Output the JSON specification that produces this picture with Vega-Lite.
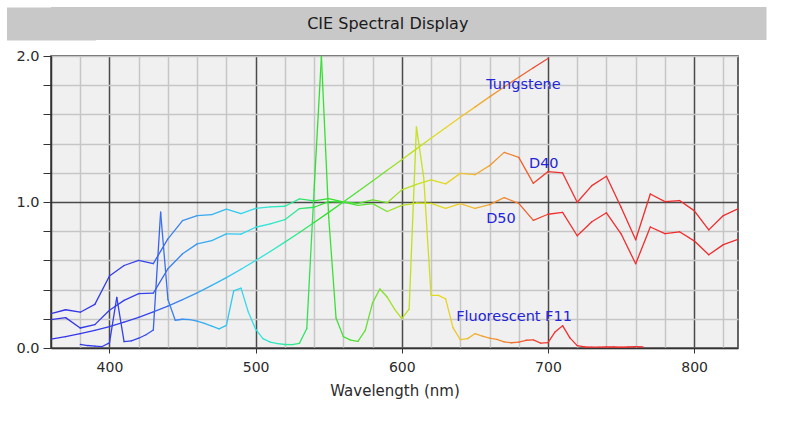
{
  "$schema": "https://vega.github.io/schema/vega-lite/v6.json",
  "background": "white",
  "padding": {"left": 5, "top": 7, "right": 5, "bottom": 5},
  "config": {"font": "DejaVu Sans"},
  "spacing": 7,
  "datasets": {
    "spectra": [
      {"s": "D40", "wl": 360, "v": 0.194}, {"s": "D40", "wl": 370, "v": 0.208}, {"s": "D40", "wl": 380, "v": 0.137}, {"s": "D40", "wl": 390, "v": 0.16},
      {"s": "D40", "wl": 400, "v": 0.258}, {"s": "D40", "wl": 410, "v": 0.326}, {"s": "D40", "wl": 420, "v": 0.372}, {"s": "D40", "wl": 430, "v": 0.376},
      {"s": "D40", "wl": 440, "v": 0.543}, {"s": "D40", "wl": 450, "v": 0.645}, {"s": "D40", "wl": 460, "v": 0.713}, {"s": "D40", "wl": 470, "v": 0.736},
      {"s": "D40", "wl": 480, "v": 0.782}, {"s": "D40", "wl": 490, "v": 0.78}, {"s": "D40", "wl": 500, "v": 0.827}, {"s": "D40", "wl": 510, "v": 0.85},
      {"s": "D40", "wl": 520, "v": 0.879}, {"s": "D40", "wl": 530, "v": 0.955}, {"s": "D40", "wl": 540, "v": 0.964}, {"s": "D40", "wl": 550, "v": 1.003},
      {"s": "D40", "wl": 560, "v": 1.0}, {"s": "D40", "wl": 570, "v": 0.99}, {"s": "D40", "wl": 580, "v": 1.015}, {"s": "D40", "wl": 590, "v": 0.995},
      {"s": "D40", "wl": 600, "v": 1.083}, {"s": "D40", "wl": 610, "v": 1.12}, {"s": "D40", "wl": 620, "v": 1.151}, {"s": "D40", "wl": 630, "v": 1.124},
      {"s": "D40", "wl": 640, "v": 1.196}, {"s": "D40", "wl": 650, "v": 1.187}, {"s": "D40", "wl": 660, "v": 1.249}, {"s": "D40", "wl": 670, "v": 1.34},
      {"s": "D40", "wl": 680, "v": 1.306}, {"s": "D40", "wl": 690, "v": 1.128}, {"s": "D40", "wl": 700, "v": 1.208}, {"s": "D40", "wl": 710, "v": 1.199},
      {"s": "D40", "wl": 720, "v": 0.998}, {"s": "D40", "wl": 730, "v": 1.112}, {"s": "D40", "wl": 740, "v": 1.176}, {"s": "D40", "wl": 750, "v": 0.964},
      {"s": "D40", "wl": 760, "v": 0.741}, {"s": "D40", "wl": 770, "v": 1.055}, {"s": "D40", "wl": 780, "v": 1.003}, {"s": "D40", "wl": 790, "v": 1.01},
      {"s": "D40", "wl": 800, "v": 0.941}, {"s": "D40", "wl": 810, "v": 0.809}, {"s": "D40", "wl": 820, "v": 0.907}, {"s": "D40", "wl": 830, "v": 0.953},

      {"s": "D50", "wl": 360, "v": 0.235}, {"s": "D50", "wl": 370, "v": 0.262}, {"s": "D50", "wl": 380, "v": 0.245}, {"s": "D50", "wl": 390, "v": 0.299},
      {"s": "D50", "wl": 400, "v": 0.493}, {"s": "D50", "wl": 410, "v": 0.565}, {"s": "D50", "wl": 420, "v": 0.6}, {"s": "D50", "wl": 430, "v": 0.578},
      {"s": "D50", "wl": 440, "v": 0.748}, {"s": "D50", "wl": 450, "v": 0.873}, {"s": "D50", "wl": 460, "v": 0.906}, {"s": "D50", "wl": 470, "v": 0.914},
      {"s": "D50", "wl": 480, "v": 0.951}, {"s": "D50", "wl": 490, "v": 0.92}, {"s": "D50", "wl": 500, "v": 0.957}, {"s": "D50", "wl": 510, "v": 0.966},
      {"s": "D50", "wl": 520, "v": 0.971}, {"s": "D50", "wl": 530, "v": 1.021}, {"s": "D50", "wl": 540, "v": 1.008}, {"s": "D50", "wl": 550, "v": 1.023},
      {"s": "D50", "wl": 560, "v": 1.0}, {"s": "D50", "wl": 570, "v": 0.977}, {"s": "D50", "wl": 580, "v": 0.989}, {"s": "D50", "wl": 590, "v": 0.935},
      {"s": "D50", "wl": 600, "v": 0.977}, {"s": "D50", "wl": 610, "v": 0.993}, {"s": "D50", "wl": 620, "v": 0.99}, {"s": "D50", "wl": 630, "v": 0.957},
      {"s": "D50", "wl": 640, "v": 0.989}, {"s": "D50", "wl": 650, "v": 0.957}, {"s": "D50", "wl": 660, "v": 0.982}, {"s": "D50", "wl": 670, "v": 1.03},
      {"s": "D50", "wl": 680, "v": 0.991}, {"s": "D50", "wl": 690, "v": 0.874}, {"s": "D50", "wl": 700, "v": 0.916}, {"s": "D50", "wl": 710, "v": 0.929},
      {"s": "D50", "wl": 720, "v": 0.769}, {"s": "D50", "wl": 730, "v": 0.865}, {"s": "D50", "wl": 740, "v": 0.926}, {"s": "D50", "wl": 750, "v": 0.782},
      {"s": "D50", "wl": 760, "v": 0.577}, {"s": "D50", "wl": 770, "v": 0.829}, {"s": "D50", "wl": 780, "v": 0.783}, {"s": "D50", "wl": 790, "v": 0.796},
      {"s": "D50", "wl": 800, "v": 0.734}, {"s": "D50", "wl": 810, "v": 0.639}, {"s": "D50", "wl": 820, "v": 0.708}, {"s": "D50", "wl": 830, "v": 0.744},

      {"s": "A", "wl": 360, "v": 0.061}, {"s": "A", "wl": 370, "v": 0.078}, {"s": "A", "wl": 380, "v": 0.098}, {"s": "A", "wl": 390, "v": 0.121},
      {"s": "A", "wl": 400, "v": 0.147}, {"s": "A", "wl": 410, "v": 0.177}, {"s": "A", "wl": 420, "v": 0.21}, {"s": "A", "wl": 430, "v": 0.247},
      {"s": "A", "wl": 440, "v": 0.287}, {"s": "A", "wl": 450, "v": 0.331}, {"s": "A", "wl": 460, "v": 0.378}, {"s": "A", "wl": 470, "v": 0.429},
      {"s": "A", "wl": 480, "v": 0.482}, {"s": "A", "wl": 490, "v": 0.539}, {"s": "A", "wl": 500, "v": 0.599}, {"s": "A", "wl": 510, "v": 0.661},
      {"s": "A", "wl": 520, "v": 0.725}, {"s": "A", "wl": 530, "v": 0.791}, {"s": "A", "wl": 540, "v": 0.86}, {"s": "A", "wl": 550, "v": 0.929},
      {"s": "A", "wl": 560, "v": 1.0}, {"s": "A", "wl": 570, "v": 1.072}, {"s": "A", "wl": 580, "v": 1.144}, {"s": "A", "wl": 590, "v": 1.217},
      {"s": "A", "wl": 600, "v": 1.29}, {"s": "A", "wl": 610, "v": 1.364}, {"s": "A", "wl": 620, "v": 1.436}, {"s": "A", "wl": 630, "v": 1.508},
      {"s": "A", "wl": 640, "v": 1.58}, {"s": "A", "wl": 650, "v": 1.65}, {"s": "A", "wl": 660, "v": 1.72}, {"s": "A", "wl": 670, "v": 1.788},
      {"s": "A", "wl": 680, "v": 1.854}, {"s": "A", "wl": 690, "v": 1.919}, {"s": "A", "wl": 700, "v": 1.983},

      {"s": "F11", "wl": 380, "v": 0.025}, {"s": "F11", "wl": 385, "v": 0.017}, {"s": "F11", "wl": 390, "v": 0.013}, {"s": "F11", "wl": 395, "v": 0.01},
      {"s": "F11", "wl": 400, "v": 0.035}, {"s": "F11", "wl": 405, "v": 0.347}, {"s": "F11", "wl": 410, "v": 0.044}, {"s": "F11", "wl": 415, "v": 0.049},
      {"s": "F11", "wl": 420, "v": 0.067}, {"s": "F11", "wl": 425, "v": 0.091}, {"s": "F11", "wl": 430, "v": 0.123}, {"s": "F11", "wl": 435, "v": 0.93},
      {"s": "F11", "wl": 440, "v": 0.332}, {"s": "F11", "wl": 445, "v": 0.19}, {"s": "F11", "wl": 450, "v": 0.197}, {"s": "F11", "wl": 455, "v": 0.195},
      {"s": "F11", "wl": 460, "v": 0.184}, {"s": "F11", "wl": 465, "v": 0.168}, {"s": "F11", "wl": 470, "v": 0.15}, {"s": "F11", "wl": 475, "v": 0.131},
      {"s": "F11", "wl": 480, "v": 0.155}, {"s": "F11", "wl": 485, "v": 0.392}, {"s": "F11", "wl": 490, "v": 0.41}, {"s": "F11", "wl": 495, "v": 0.246},
      {"s": "F11", "wl": 500, "v": 0.129}, {"s": "F11", "wl": 505, "v": 0.064}, {"s": "F11", "wl": 510, "v": 0.04}, {"s": "F11", "wl": 515, "v": 0.03},
      {"s": "F11", "wl": 520, "v": 0.024}, {"s": "F11", "wl": 525, "v": 0.023}, {"s": "F11", "wl": 530, "v": 0.032}, {"s": "F11", "wl": 535, "v": 0.134},
      {"s": "F11", "wl": 540, "v": 1.085}, {"s": "F11", "wl": 545, "v": 1.996}, {"s": "F11", "wl": 550, "v": 0.894}, {"s": "F11", "wl": 555, "v": 0.206},
      {"s": "F11", "wl": 560, "v": 0.078}, {"s": "F11", "wl": 565, "v": 0.054}, {"s": "F11", "wl": 570, "v": 0.046}, {"s": "F11", "wl": 575, "v": 0.121},
      {"s": "F11", "wl": 580, "v": 0.309}, {"s": "F11", "wl": 585, "v": 0.404}, {"s": "F11", "wl": 590, "v": 0.349}, {"s": "F11", "wl": 595, "v": 0.267},
      {"s": "F11", "wl": 600, "v": 0.201}, {"s": "F11", "wl": 605, "v": 0.266}, {"s": "F11", "wl": 610, "v": 1.514}, {"s": "F11", "wl": 615, "v": 1.167},
      {"s": "F11", "wl": 620, "v": 0.361}, {"s": "F11", "wl": 625, "v": 0.361}, {"s": "F11", "wl": 630, "v": 0.336}, {"s": "F11", "wl": 635, "v": 0.14},
      {"s": "F11", "wl": 640, "v": 0.057}, {"s": "F11", "wl": 645, "v": 0.064}, {"s": "F11", "wl": 650, "v": 0.098}, {"s": "F11", "wl": 655, "v": 0.082},
      {"s": "F11", "wl": 660, "v": 0.068}, {"s": "F11", "wl": 665, "v": 0.059}, {"s": "F11", "wl": 670, "v": 0.042}, {"s": "F11", "wl": 675, "v": 0.036},
      {"s": "F11", "wl": 680, "v": 0.04}, {"s": "F11", "wl": 685, "v": 0.053}, {"s": "F11", "wl": 690, "v": 0.055}, {"s": "F11", "wl": 695, "v": 0.033},
      {"s": "F11", "wl": 700, "v": 0.037}, {"s": "F11", "wl": 705, "v": 0.112}, {"s": "F11", "wl": 710, "v": 0.153}, {"s": "F11", "wl": 715, "v": 0.069},
      {"s": "F11", "wl": 720, "v": 0.016}, {"s": "F11", "wl": 725, "v": 0.007}, {"s": "F11", "wl": 730, "v": 0.006}, {"s": "F11", "wl": 735, "v": 0.006},
      {"s": "F11", "wl": 740, "v": 0.007}, {"s": "F11", "wl": 745, "v": 0.007}, {"s": "F11", "wl": 750, "v": 0.005}, {"s": "F11", "wl": 755, "v": 0.007},
      {"s": "F11", "wl": 760, "v": 0.009}, {"s": "F11", "wl": 765, "v": 0.007}
    ],
    "labels": [
      {"label": "Tungstene", "wl": 657.7, "v": 1.80},
      {"label": "D40", "wl": 687.0, "v": 1.262},
      {"label": "D50", "wl": 657.7, "v": 0.886},
      {"label": "Fluorescent F11", "wl": 637.2, "v": 0.212}
    ]
  },
  "vconcat": [
    {
      "width": 715.5,
      "height": 33,
      "view": {"fill": "#c8c8c8", "stroke": null},
      "data": {"values": [{"t": "CIE Spectral Display"}]},
      "mark": {"type": "text", "fontSize": 16, "color": "#1a1a1a", "font": "DejaVu Sans", "dx": -21},
      "encoding": {
        "text": {"field": "t", "type": "nominal"},
        "y": {
          "datum": 0.5, "type": "quantitative",
          "scale": {"domain": [0, 1]},
          "axis": {
            "title": null, "labels": false, "ticks": false, "grid": false,
            "domain": true, "domainColor": "#c8c8c8", "domainWidth": 89, "domainCap": "butt",
            "minExtent": 44.5, "maxExtent": 44.5
          }
        }
      }
    },
    {
      "width": 687,
      "height": 292,
      "view": {"fill": "#f0f0f0", "stroke": "#333333", "strokeWidth": 1.5},
      "layer": [
        {
          "data": {"name": "spectra"},
          "transform": [
            {"window": [{"op": "lead", "field": "wl", "as": "wl2"}, {"op": "lead", "field": "v", "as": "v2"}],
             "groupby": ["s"], "sort": [{"field": "wl", "order": "ascending"}], "frame": [null, null]},
            {"filter": "datum.wl2 != null"}
          ],
          "mark": {"type": "rule", "strokeWidth": 1.3, "clip": true, "strokeCap": "round"},
          "encoding": {
            "x": {
              "field": "wl", "type": "quantitative",
              "scale": {"domain": [360, 830], "nice": false, "zero": false},
              "axis": {
                "title": "Wavelength (nm)",
                "values": [380, 400, 420, 440, 460, 480, 500, 520, 540, 560, 580, 600, 620, 640, 660, 680, 700, 720, 740, 760, 780, 800, 820],
                "tickCount": 100,
                "labelExpr": "datum.value % 100 == 0 ? datum.label : ''",
                "labelOverlap": false, "labelFlush": false,
                "labelFontSize": 14, "labelColor": "#2a2a2a", "labelPadding": 7,
                "tickSize": 5,
                "tickColor": {"condition": {"test": "datum.value % 100 == 0", "value": "#333333"}, "value": "transparent"},
                "grid": true, "gridWidth": 1.5,
                "gridColor": {"condition": {"test": "datum.value % 100 == 0", "value": "#4a4a4a"}, "value": "#c6c6c6"},
                "domainColor": "#333333", "domainWidth": 1.5,
                "titleFontSize": 15, "titleFontWeight": "normal", "titleColor": "#2a2a2a", "titlePadding": 9
              }
            },
            "x2": {"field": "wl2"},
            "y": {
              "field": "v", "type": "quantitative",
              "scale": {"domain": [0, 2], "nice": false},
              "axis": {
                "title": null,
                "values": [0, 0.2, 0.4, 0.6, 0.8, 1.0, 1.2, 1.4, 1.6, 1.8, 2.0],
                "tickCount": 100,
                "labelExpr": "abs(datum.value - round(datum.value)) < 0.01 ? format(datum.value, '.1f') : ''",
                "labelOverlap": false, "labelFlush": false,
                "labelFontSize": 14.5, "labelColor": "#2a2a2a", "labelPadding": 4,
                "tickSize": 8, "tickColor": "#333333",
                "grid": true, "gridWidth": 1.5,
                "gridColor": {"condition": {"test": "abs(datum.value - 1) < 0.01", "value": "#4a4a4a"}, "value": "#c6c6c6"},
                "domainColor": "#333333", "domainWidth": 1.5,
                "minExtent": 44.5, "maxExtent": 44.5
              }
            },
            "y2": {"field": "v2"},
            "color": {
              "field": "wl", "type": "quantitative", "legend": null,
              "scale": {
                "domain": [360, 420, 440, 460, 480, 495, 510, 525, 540, 560, 580, 595, 610, 625, 640, 655, 670, 685, 700, 830],
                "range": ["#3333e6", "#3344ee", "#3a80f0", "#38a8f0", "#30c8f0", "#30e0e8", "#30e8c0", "#30e880", "#30e030", "#48e038", "#70e030", "#b0e020", "#c8e020", "#e8d820", "#f0c030", "#f0a030", "#f08030", "#f05030", "#f03030", "#f02828"],
                "interpolate": "rgb"
              }
            }
          }
        },
        {
          "data": {"name": "labels"},
          "mark": {"type": "text", "align": "left", "baseline": "middle", "fontSize": 14.5, "color": "#2424d8", "font": "DejaVu Sans"},
          "encoding": {
            "x": {"field": "wl", "type": "quantitative"},
            "y": {"field": "v", "type": "quantitative"},
            "text": {"field": "label", "type": "nominal"}
          }
        }
      ]
    }
  ]
}
